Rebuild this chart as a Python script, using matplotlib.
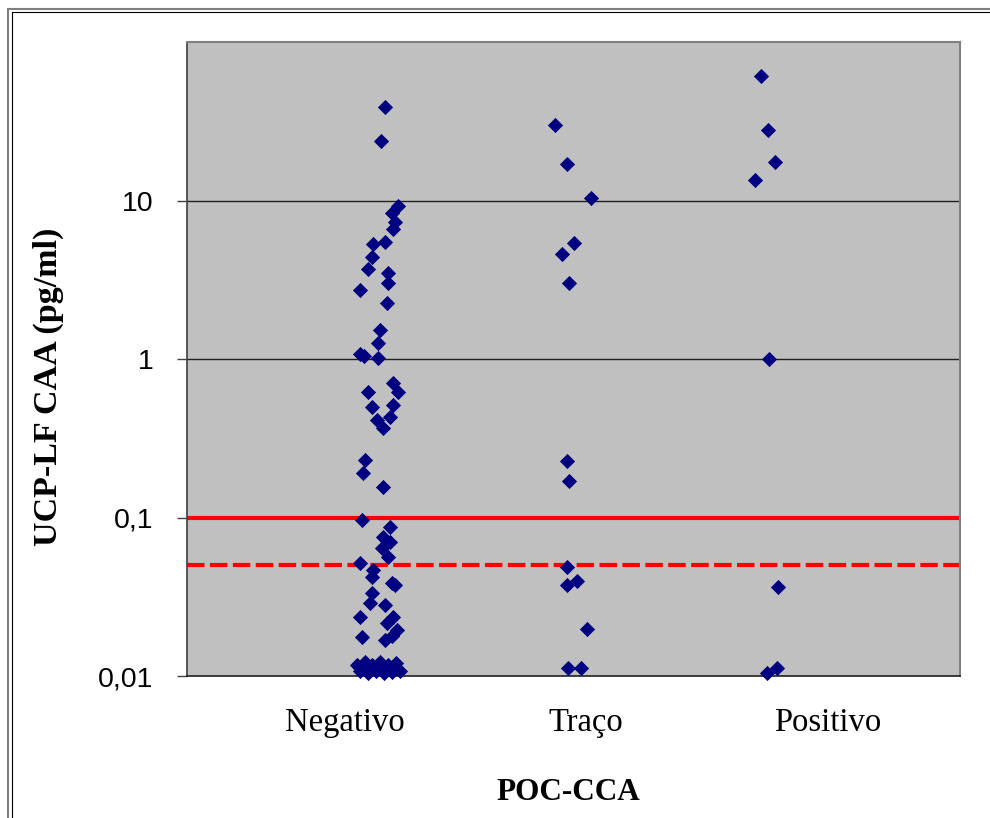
import matplotlib
matplotlib.use('Agg')
import matplotlib.pyplot as plt
from matplotlib.lines import Line2D

# categorias e posicoes
categorias = ['Negativo', 'Traço', 'Positivo']
cat_pos = [1, 2, 3]

# Negativo: deslocamento horizontal (jitter) e valor em pg/ml
neg_jit = [0.166, 0.149, 0.22, 0.195, 0.207, 0.199, 0.166, 0.116, 0.112, 0.095,
           0.178, 0.178, 0.062, 0.174, 0.145, 0.137, 0.062, 0.08, 0.137,
           0.199, 0.22, 0.095, 0.112, 0.199, 0.133, 0.187, 0.158, 0.083, 0.075,
           0.158, 0.071, 0.187, 0.158, 0.187, 0.154, 0.178, 0.062, 0.116, 0.112,
           0.195, 0.207, 0.112, 0.104, 0.166, 0.062, 0.199, 0.174, 0.216, 0.071,
           0.166, 0.195,
           0.05, 0.083, 0.112, 0.145, 0.178, 0.212, 0.062, 0.095, 0.129, 0.162,
           0.195, 0.228, 0.104, 0.170]
neg_val = [39.0, 23.9, 9.2, 8.4, 7.3, 6.6, 5.5, 5.3, 4.4, 3.7,
           3.5, 3.0, 2.74, 2.27, 1.53, 1.27, 1.08, 1.05, 1.02,
           0.71, 0.62, 0.62, 0.50, 0.515, 0.414, 0.43, 0.368, 0.23, 0.191,
           0.156, 0.0966, 0.0873, 0.0754, 0.0702, 0.0643, 0.0564, 0.0517, 0.0467, 0.0422,
           0.0386, 0.0375, 0.0334, 0.0289, 0.0281, 0.0236, 0.0236, 0.0216, 0.0195, 0.0176,
           0.0169, 0.018,
           0.0118, 0.0122, 0.0118, 0.0122, 0.0118, 0.012, 0.0107, 0.0105, 0.0107, 0.0104,
           0.0106, 0.0107, 0.0111, 0.0111]

# Traço
tra_jit = [-0.13, -0.08, 0.02, -0.05, -0.10, -0.07, -0.08, -0.07, -0.08, -0.04,
           -0.08, 0.005, -0.075, -0.02]
tra_val = [29.8, 17.1, 10.4, 5.4, 4.6, 3.03, 0.228, 0.17, 0.049, 0.040,
           0.0375, 0.0198, 0.0112, 0.0112]

# Positivo
pos_jit = [-0.275, -0.245, -0.215, -0.30, -0.24, -0.205, -0.25, -0.21]
pos_val = [60.7, 27.7, 17.4, 13.4, 1.0, 0.0365, 0.0105, 0.0112]

# limites de deteccao
limite = 0.1
limite2 = 0.05

fig = plt.figure(figsize=(9.9, 8.18), dpi=100)
ax = fig.add_axes([187/990, 1-676/818, (960-187)/990, (676-42)/818])
ax.set_facecolor('#C0C0C0')

ax.set_yscale('log')
ax.set_ylim(0.01, 100)
ax.set_xlim(0.345, 3.55)

for y in [1, 10]:
    ax.axhline(y, color='#202020', lw=1.0, zorder=1)

ax.axhline(limite, color='#FF0000', lw=3, zorder=2)
ax.axhline(limite2, color='#FF0000', lw=3, ls=(0, (4.2, 1.3)), zorder=2)

cor = '#000080'
for c, jit, val in zip(cat_pos, [neg_jit, tra_jit, pos_jit], [neg_val, tra_val, pos_val]):
    ax.scatter([c + j for j in jit], val, marker='D', s=60, color=cor,
               linewidths=0, zorder=3, clip_on=False)

ax.set_yticks([0.01, 0.1, 1, 10])
ax.set_yticklabels(['0,01', '0,1', '1', '10'], fontfamily='Liberation Sans', fontsize=20.5)
ax.yaxis.set_minor_locator(matplotlib.ticker.NullLocator())
ax.tick_params(axis='y', direction='out', length=7, width=1, color='#404040', pad=17)

ax.set_xticks(cat_pos)
ax.set_xticklabels(categorias, fontfamily='Liberation Serif', fontsize=23.5)
ax.tick_params(axis='x', length=0, pad=23)

for s in ['top', 'right']:
    ax.spines[s].set_color('#808080')
    ax.spines[s].set_linewidth(1.5)
ax.spines['left'].set_color('#404040')
ax.spines['bottom'].set_color('#202020')
ax.spines['left'].set_linewidth(1.2)
ax.spines['bottom'].set_linewidth(1.2)

fig.text(48/990, 1-387/818, 'UCP-LF CAA (pg/ml)', rotation=90, ha='center', va='center',
         fontfamily='Liberation Serif', fontweight='bold', fontsize=24.5)
fig.text(568/990, 1-793/818, 'POC-CCA', ha='center', va='center',
         fontfamily='Liberation Serif', fontweight='bold', fontsize=22.5)

# moldura
fig.add_artist(Line2D([8/990, 1], [1-9/818, 1-9/818], color='#808080', lw=1.5))
fig.add_artist(Line2D([8/990, 8/990], [0, 1-9/818], color='#808080', lw=1.5))
fig.add_artist(Line2D([12/990, 1], [1-12/818, 1-12/818], color='#000000', lw=0.8))
fig.add_artist(Line2D([12/990, 12/990], [0, 1-12/818], color='#000000', lw=0.8))

fig.savefig('out.png', dpi=100)
